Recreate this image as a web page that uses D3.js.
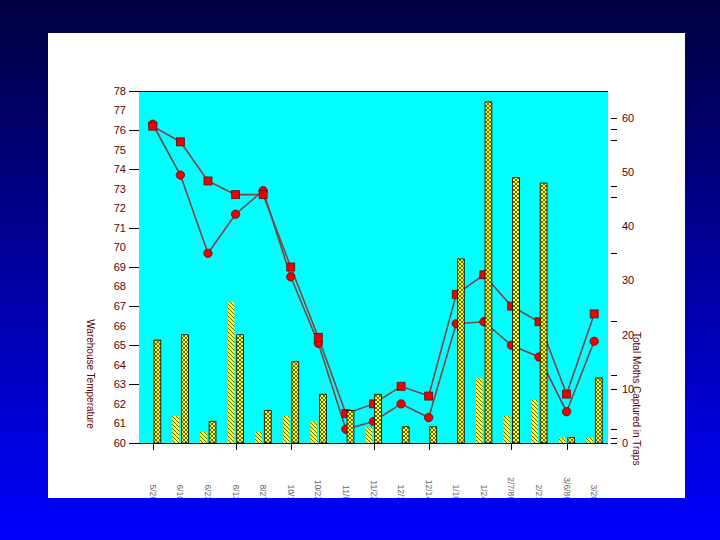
<!DOCTYPE html>
<html><head><meta charset="utf-8">
<script src="https://cdn.jsdelivr.net/npm/d3@7"></script>
<style>html,body{margin:0;padding:0;overflow:hidden;}svg{display:block;}</style>
</head><body>
<script>
const dates = ["5/26","6/10","6/23","8/13","8/27","10/1","10/22","11/8","11/22","12/1","12/14","1/10","1/24","2/7/86","2/21","3/6/86","3/20"];
const tempSquare = [76.2,75.4,73.4,72.7,72.7,69.0,65.4,61.5,62.0,62.9,62.4,67.6,68.6,67.0,66.2,62.5,66.6];
const tempCircle = [76.3,73.7,69.7,71.7,72.9,68.5,65.1,60.7,61.1,62.0,61.3,66.1,66.2,65.0,64.4,61.6,65.2];
const mothsA = [0,5,2,26,2,5,4,0,3,0,0,0,12,5,8,1,1];
const mothsB = [19,20,4,20,6,15,9,6,9,3,3,34,63,49,48,1,12];
const leftTickLabels = [60,61,62,63,64,65,66,67,68,69,70,71,72,73,74,75,76,77,78];
const leftTickMarks = [60,63,65,67,69,71,74,76,78];
const rightTickLabels = [0,10,20,30,40,50,60];
const rightTickMarks = [0,1,2.5,10,12.5,22.5,35,45.5,47.5,56,58,60];
const xTickCats = [0,3,5,8,10,13,15];

const W=720,H=540;
const svg=d3.select("body").append("svg").attr("width",W).attr("height",H);
const defs=svg.append("defs");
const bg=defs.append("linearGradient").attr("id","bg").attr("x1",0).attr("y1",0).attr("x2",0).attr("y2",1);
bg.append("stop").attr("offset","0%").attr("stop-color","#000040");
bg.append("stop").attr("offset","100%").attr("stop-color","#0000ff");
const pA=defs.append("pattern").attr("id","pA").attr("patternUnits","userSpaceOnUse").attr("width",4).attr("height",4);
pA.append("rect").attr("width",4).attr("height",4).attr("fill","#ffff00");
pA.append("path").attr("d","M-1,-1L5,5M-1,3L1,5M3,-1L5,1").attr("stroke","#222").attr("stroke-width",0.7);
const pB=defs.append("pattern").attr("id","pB").attr("patternUnits","userSpaceOnUse").attr("width",4).attr("height",4);
pB.append("rect").attr("width",4).attr("height",4).attr("fill","#ffff00");
pB.append("path").attr("d","M0,0L4,4M4,0L0,4").attr("stroke","#222").attr("stroke-width",0.7);
defs.append("clipPath").attr("id","panelClip").append("rect").attr("x",48).attr("y",33).attr("width",637).attr("height",465);

svg.append("rect").attr("width",W).attr("height",H).attr("fill","url(#bg)");
svg.append("rect").attr("x",48).attr("y",33).attr("width",637).attr("height",465).attr("fill","#ffffff");

const L=139,R=608,T=91,B=443;
const x=d3.scaleBand().domain(d3.range(dates.length)).range([L,R]).padding(0);
const xc=i=>x(i)+x.bandwidth()/2;
const sub=d3.scaleBand().domain(["a","b"]).range([-8,8]).paddingInner(0.25);
const yL=d3.scaleLinear().domain([60,78]).range([B,T]);
const yR=d3.scaleLinear().domain([0,65]).range([B,T]);

svg.append("rect").attr("x",L).attr("y",T).attr("width",R-L).attr("height",B-T).attr("fill","#00ffff");
svg.append("line").attr("x1",L).attr("x2",R).attr("y1",T+0.5).attr("y2",T+0.5).attr("stroke","#000");

const tc="#5a0000";
const FF="Liberation Sans, Arial, sans-serif";
// left axis
const gl=svg.append("g").attr("font-family",FF).attr("font-size",11).attr("fill",tc);
gl.selectAll("text").data(leftTickLabels).join("text").attr("x",126).attr("y",d=>yL(d)).attr("dy","0.35em").attr("text-anchor","end").text(d=>d);
svg.append("g").selectAll("line").data(leftTickMarks).join("line").attr("x1",129).attr("x2",L).attr("y1",d=>Math.round(yL(d))+0.5).attr("y2",d=>Math.round(yL(d))+0.5).attr("stroke","#000");
// right axis
const gr=svg.append("g").attr("font-family",FF).attr("font-size",11).attr("fill",tc);
gr.selectAll("text").data(rightTickLabels).join("text").attr("x",622).attr("y",d=>yR(d)).attr("dy","0.35em").text(d=>d);
svg.append("g").selectAll("line").data(rightTickMarks).join("line").attr("x1",611).attr("x2",617).attr("y1",d=>Math.round(yR(d))+0.5).attr("y2",d=>Math.round(yR(d))+0.5).attr("stroke","#000");
// titles
svg.append("text").attr("transform","translate(87,374) rotate(90)").attr("text-anchor","middle").attr("font-family",FF).attr("font-size",10).attr("fill",tc).text("Warehouse Temperature");
svg.append("text").attr("transform","translate(633,332) rotate(90)").attr("text-anchor","start").attr("font-family",FF).attr("font-size",10).attr("fill",tc).text("Total Moths Captured in Traps");

// lines
const lineC="#7a4646";
const mk=(arr)=>d3.line().x((d,i)=>xc(i)).y(d=>yL(d))(arr);
svg.append("path").attr("d",mk(tempCircle)).attr("fill","none").attr("stroke",lineC).attr("stroke-width",1.6);
svg.append("path").attr("d",mk(tempSquare)).attr("fill","none").attr("stroke",lineC).attr("stroke-width",1.6);
svg.append("g").selectAll("circle").data(tempCircle).join("circle").attr("cx",(d,i)=>xc(i)).attr("cy",d=>yL(d)).attr("r",4.2).attr("fill","#ee0000").attr("stroke","#5a1010").attr("stroke-width",0.8);
svg.append("g").selectAll("rect").data(tempSquare).join("rect").attr("x",(d,i)=>xc(i)-4).attr("y",d=>yL(d)-4).attr("width",8).attr("height",8).attr("fill","#ee0000").attr("stroke","#5a1010").attr("stroke-width",0.8);

// bars
const barData=[];
mothsA.forEach((v,i)=>{if(v>0)barData.push({i,k:"a",v});});
mothsB.forEach((v,i)=>{if(v>0)barData.push({i,k:"b",v});});
svg.append("g").selectAll("rect").data(barData).join("rect")
  .attr("x",d=>xc(d.i)+sub(d.k)).attr("y",d=>yR(d.v))
  .attr("width",sub.bandwidth()).attr("height",d=>B-yR(d.v))
  .attr("fill",d=>d.k==="a"?"url(#pA)":"url(#pB)")
  .attr("stroke",d=>d.k==="a"?"none":"#000").attr("stroke-width",0.8);

// bottom axis
svg.append("line").attr("x1",130).attr("x2",R).attr("y1",B+0.5).attr("y2",B+0.5).attr("stroke","#000");
svg.append("g").selectAll("line").data(xTickCats).join("line").attr("x1",i=>Math.round(xc(i))+0.5).attr("x2",i=>Math.round(xc(i))+0.5).attr("y1",B).attr("y2",B+7).attr("stroke","#000");
svg.append("g").attr("clip-path","url(#panelClip)").selectAll("text").data(dates).join("text")
  .attr("transform",(d,i)=>`translate(${xc(i)-3},501) rotate(90)`).attr("text-anchor","end")
  .attr("font-family",FF).attr("font-size",8.5).attr("fill","#666").text(d=>d);
</script>
</body></html>
